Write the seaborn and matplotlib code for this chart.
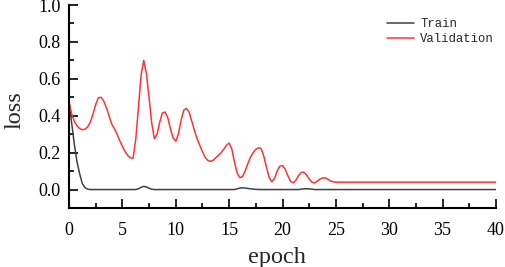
import matplotlib
matplotlib.use("Agg")
import matplotlib.pyplot as plt
import seaborn as sns
import pandas as pd
from matplotlib.ticker import MultipleLocator

# ---- data ----
train_epoch = [0, 0.25, 0.5, 0.75, 1.0, 1.25, 1.5, 1.75, 2, 3, 4, 5, 6, 6.25, 6.5,
               6.75, 7, 7.25, 7.5, 7.75, 8, 9, 10, 11, 12, 13, 14, 15, 15.5, 15.75,
               16, 16.25, 16.5, 17, 17.5, 18, 19, 20, 21, 21.5, 22, 22.5, 23, 24,
               25, 30, 35, 40]
train_loss = [0.477, 0.36, 0.245, 0.15, 0.085, 0.032, 0.01, 0.002, 0.0, 0.0, 0.0,
              0.0, 0.0, 0.0, 0.004, 0.012, 0.017, 0.014, 0.007, 0.002, 0.0, 0.0,
              0.0, 0.0, 0.0, 0.0, 0.0, 0.0, 0.0, 0.004, 0.008, 0.009, 0.008, 0.004,
              0.001, 0.0, 0.0, 0.0, 0.0, 0.0, 0.004, 0.004, 0.0, 0.0, 0.0, 0.0, 0.0,
              0.0]

val_epoch = [0, 0.25, 0.5, 0.75, 1.0, 1.25, 1.5, 1.75, 2.0, 2.25, 2.5, 2.75, 3.0,
             3.25, 3.5, 3.75, 4.0, 4.25, 4.5, 4.75, 5.0, 5.25, 5.5, 5.75, 6.0, 6.25,
             6.5, 6.75, 7.0, 7.25, 7.5, 7.75, 8.0, 8.25, 8.5, 8.75, 9.0, 9.25, 9.5,
             9.75, 10.0, 10.25, 10.5, 10.75, 11.0, 11.25, 11.5, 11.75, 12.0, 12.25,
             12.5, 12.75, 13.0, 13.25, 13.5, 13.75, 14.0, 14.25, 14.5, 14.75, 15.0,
             15.25, 15.5, 15.75, 16.0, 16.25, 16.5, 16.75, 17.0, 17.25, 17.5, 17.75,
             18.0, 18.25, 18.5, 18.75, 19.0, 19.25, 19.5, 19.75, 20.0, 20.25, 20.5,
             20.75, 21.0, 21.25, 21.5, 21.75, 22.0, 22.25, 22.5, 22.75, 23.0, 23.25,
             23.5, 23.75, 24.0, 24.25, 24.5, 24.75, 25.0, 30, 35, 40]
val_loss = [0.477, 0.41, 0.37, 0.345, 0.33, 0.324, 0.327, 0.34, 0.365, 0.41, 0.46,
            0.497, 0.50, 0.48, 0.445, 0.40, 0.355, 0.33, 0.30, 0.265, 0.235, 0.205,
            0.185, 0.172, 0.17, 0.27, 0.44, 0.62, 0.70, 0.63, 0.50, 0.36, 0.275,
            0.30, 0.365, 0.415, 0.42, 0.39, 0.33, 0.28, 0.262, 0.30, 0.375, 0.43,
            0.44, 0.42, 0.37, 0.32, 0.275, 0.24, 0.205, 0.175, 0.158, 0.153, 0.158,
            0.172, 0.185, 0.20, 0.218, 0.24, 0.252, 0.22, 0.15, 0.09, 0.065, 0.07,
            0.10, 0.14, 0.175, 0.20, 0.218, 0.226, 0.222, 0.18, 0.12, 0.065, 0.042,
            0.06, 0.10, 0.127, 0.13, 0.11, 0.075, 0.045, 0.036, 0.05, 0.075, 0.092,
            0.094, 0.08, 0.057, 0.04, 0.036, 0.045, 0.056, 0.063, 0.063, 0.056,
            0.047, 0.042, 0.04, 0.04, 0.04, 0.04]

series_names = ["Train", "Validation"]
series_colors = ["#404040", "#ff3333"]
y_ticks = [0.0, 0.2, 0.4, 0.6, 0.8, 1.0]
y_ticklabels = ["0.0", "0.2", "0.4", "0.6", "0.8", "1.0"]

sns.set_style("ticks")
plt.rcParams["font.family"] = ["Liberation Serif", "DejaVu Serif"]

fig = plt.figure(figsize=(5.05, 2.67), dpi=100)
ax = fig.add_axes([69 / 505, 1 - 208 / 267, (496 - 69) / 505, (208 - 5) / 267])

df_train = pd.DataFrame({"epoch": train_epoch, "loss": train_loss})
df_val = pd.DataFrame({"epoch": val_epoch, "loss": val_loss})

sns.lineplot(data=df_train, x="epoch", y="loss", ax=ax, color=series_colors[0],
             linewidth=1.1, label=series_names[0])
sns.lineplot(data=df_val, x="epoch", y="loss", ax=ax, color=series_colors[1],
             linewidth=1.1, label=series_names[1])

ax.set_xlim(0, 40)
ax.set_ylim(-0.1, 1.0)
ax.xaxis.set_major_locator(MultipleLocator(5))
ax.xaxis.set_minor_locator(MultipleLocator(2.5))
ax.yaxis.set_minor_locator(MultipleLocator(0.1))
ax.set_yticks(y_ticks)
ax.set_yticklabels(y_ticklabels)

for side in ["top", "right"]:
    ax.spines[side].set_visible(False)
for side in ["left", "bottom"]:
    ax.spines[side].set_linewidth(1.5)
    ax.spines[side].set_color("black")

ax.tick_params(which="major", direction="in", length=6.5, width=1.2,
               labelsize=13, colors="black")
ax.tick_params(which="minor", direction="in", length=3.4, width=1.2, colors="black")
ax.tick_params(axis="x", which="major", pad=10)
ax.tick_params(axis="y", which="major", pad=6)

ax.set_xlabel("epoch", fontsize=17.5)
ax.set_ylabel("loss", fontsize=17.5)
ax.xaxis.set_label_coords(0.487, -0.19)
ax.yaxis.set_label_coords(-0.103, 0.48)

leg = ax.legend(loc="upper left", bbox_to_anchor=(381 / 505, 1 - 12 / 267),
                bbox_transform=fig.transFigure, frameon=False,
                prop={"family": "Liberation Mono", "size": 8.8},
                handlelength=2.2, handletextpad=0.5, borderpad=0,
                labelspacing=0.25)

fig.savefig("out.png", dpi=100)
